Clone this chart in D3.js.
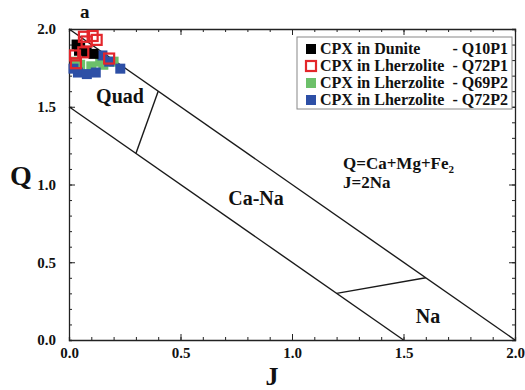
<!DOCTYPE html>
<html>
<head>
<meta charset="utf-8">
<script src="https://cdn.jsdelivr.net/npm/d3@7"></script>
<style>
  body { margin: 0; background: #fff; }
  svg text { font-family: "Liberation Serif", "Times New Roman", serif; font-weight: bold; fill: #111; }
  .axis path, .axis line { stroke: #222; }
</style>
</head>
<body>
<svg id="chart" width="525" height="390"></svg>
<script>
// tick values
const majorTicks = [0, 0.5, 1.0, 1.5, 2.0];
const minorTicks = d3.range(0, 2.001, 0.1);

// field boundaries (J, Q)
const upperLine = [[0, 2], [2, 0]];
const lowerLine = [[0, 1.5], [1.5, 0]];
const quadLine = [[0.3, 1.2], [0.4, 1.6]];
const naLine = [[1.2, 0.3], [1.6, 0.4]];

// data series (J, Q)
const q10p1 = [[0.034, 1.90], [0.05, 1.88], [0.079, 1.85], [0.11, 1.84], [0.045, 1.86]];
const q72p1 = [[0.067, 1.95], [0.106, 1.955], [0.124, 1.93], [0.079, 1.92], [0.064, 1.85],
               [0.027, 1.83], [0.031, 1.78], [0.18, 1.81]];
const q69p2 = [[0.05, 1.77], [0.10, 1.76], [0.154, 1.77], [0.2, 1.79], [0.14, 1.79], [0.03, 1.79]];
const q72p2 = [[0.04, 1.72], [0.08, 1.71], [0.12, 1.72], [0.15, 1.83], [0.23, 1.745],
               [0.18, 1.79], [0.02, 1.745]];

const seriesNames = ["CPX in Dunite", "CPX in Lherzolite", "CPX in Lherzolite", "CPX in Lherzolite"];
const seriesCodes = ["- Q10P1", "- Q72P1", "- Q69P2", "- Q72P2"];
const seriesColors = ["#000000", "#e3262b", "#6cc06a", "#2d4fa6"];
const seriesHollow = [false, true, false, false];
const seriesData = [q10p1, q72p1, q69p2, q72p2];
const drawOrder = [2, 3, 0, 1];

const svg = d3.select("#chart");
const x = d3.scaleLinear().domain([0, 2]).range([69, 515]);
const y = d3.scaleLinear().domain([0, 2]).range([340, 29]);

// minor ticks, all four sides
const minorAxes = [
  [d3.axisBottom(x), 0, y(0)], [d3.axisTop(x), 0, y(2)],
  [d3.axisLeft(y), x(0), 0], [d3.axisRight(y), x(2), 0]
];
minorAxes.forEach(([ax, tx, ty]) => {
  svg.append("g").attr("class", "axis")
    .attr("transform", `translate(${tx},${ty})`)
    .call(ax.tickValues(minorTicks).tickSize(-3).tickFormat(""))
    .call(g => g.select(".domain").attr("stroke-width", 1.3));
});

// major ticks
const fmt = d3.format(".1f");
const styleLabels = g => g.selectAll("text").attr("font-size", 15)
  .attr("font-family", "Liberation Serif").attr("font-weight", "bold").attr("fill", "#111");
svg.append("g").attr("class", "axis").attr("transform", `translate(0,${y(0)})`)
  .call(d3.axisBottom(x).tickValues(majorTicks).tickSizeInner(-6).tickSizeOuter(0).tickPadding(7).tickFormat(fmt))
  .call(styleLabels);
svg.append("g").attr("class", "axis").attr("transform", `translate(${x(0)},0)`)
  .call(d3.axisLeft(y).tickValues(majorTicks).tickSizeInner(-6).tickSizeOuter(0).tickPadding(13).tickFormat(fmt))
  .call(styleLabels);
svg.append("g").attr("class", "axis").attr("transform", `translate(0,${y(2)})`)
  .call(d3.axisTop(x).tickValues(majorTicks).tickSizeInner(-6).tickSizeOuter(0).tickFormat(""));
svg.append("g").attr("class", "axis").attr("transform", `translate(${x(2)},0)`)
  .call(d3.axisRight(y).tickValues(majorTicks).tickSizeInner(-6).tickSizeOuter(0).tickFormat(""));

// boundary lines
const line = d3.line().x(d => x(d[0])).y(d => y(d[1]));
[upperLine, lowerLine, quadLine, naLine].forEach(l => {
  svg.append("path").attr("d", line(l)).attr("fill", "none").attr("stroke", "#1a1a1a").attr("stroke-width", 1.4);
});

// points
const sz = 10;
drawOrder.forEach(i => {
  svg.append("g").selectAll("rect").data(seriesData[i]).join("rect")
    .attr("x", d => x(d[0]) - sz / 2)
    .attr("y", d => y(d[1]) - sz / 2)
    .attr("width", sz).attr("height", sz)
    .attr("fill", seriesHollow[i] ? "none" : seriesColors[i])
    .attr("stroke", seriesHollow[i] ? seriesColors[i] : "none")
    .attr("stroke-width", 2.2);
});

// field labels
svg.append("text").attr("x", 80).attr("y", 18).attr("font-size", 19).text("a");
svg.append("text").attr("x", 120).attr("y", 103).attr("text-anchor", "middle").attr("font-size", 20).text("Quad");
svg.append("text").attr("x", 256).attr("y", 205).attr("text-anchor", "middle").attr("font-size", 20).text("Ca-Na");
svg.append("text").attr("x", 428).attr("y", 323).attr("text-anchor", "middle").attr("font-size", 20).text("Na");
const eq = svg.append("text").attr("x", 343).attr("y", 169).attr("font-size", 17);
eq.append("tspan").text("Q=Ca+Mg+Fe");
eq.append("tspan").attr("font-size", 11).attr("dy", 4).text("2");
svg.append("text").attr("x", 343).attr("y", 188).attr("font-size", 17).text("J=2Na");

// axis titles
svg.append("text").attr("x", 272).attr("y", 385).attr("text-anchor", "middle").attr("font-size", 26).text("J");
svg.append("text").attr("x", 21).attr("y", 185).attr("text-anchor", "middle").attr("font-size", 28).text("Q");

// legend
const lg = svg.append("g");
lg.append("rect").attr("x", 297).attr("y", 37).attr("width", 215).attr("height", 72)
  .attr("fill", "#fff").attr("stroke", "#888").attr("stroke-width", 1);
seriesNames.forEach((name, i) => {
  const cy = 49 + i * 17;
  lg.append("rect").attr("x", 306).attr("y", cy - 5).attr("width", 10).attr("height", 10)
    .attr("fill", seriesHollow[i] ? "#fff" : seriesColors[i])
    .attr("stroke", seriesHollow[i] ? seriesColors[i] : "none").attr("stroke-width", 2.2);
  lg.append("text").attr("x", 320).attr("y", cy + 5).attr("font-size", 16).text(name);
  lg.append("text").attr("x", 508).attr("y", cy + 5).attr("text-anchor", "end").attr("font-size", 16).text(seriesCodes[i]);
});
</script>
</body>
</html>
